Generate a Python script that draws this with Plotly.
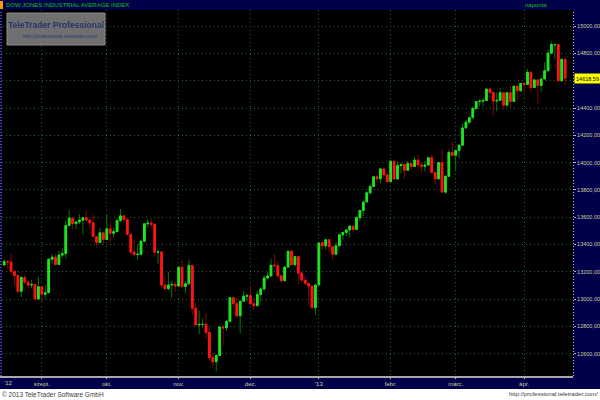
import plotly.graph_objects as go

# ---------------- data (DJIA daily candles) ----------------
month_days = [
    ("2012-08", [17, 20, 21, 22, 23, 24, 27, 28, 29, 30, 31]),
    ("2012-09", [4, 5, 6, 7, 10, 11, 12, 13, 14, 17, 18, 19, 20, 21, 24, 25, 26, 27, 28]),
    ("2012-10", [1, 2, 3, 4, 5, 8, 9, 10, 11, 12, 15, 16, 17, 18, 19, 22, 23, 24, 25, 26, 31]),
    ("2012-11", [1, 2, 5, 6, 7, 8, 9, 12, 13, 14, 15, 16, 19, 20, 21, 23, 26, 27, 28, 29, 30]),
    ("2012-12", [3, 4, 5, 6, 7, 10, 11, 12, 13, 14, 17, 18, 19, 20, 21, 24, 26, 27, 28, 31]),
    ("2013-01", [2, 3, 4, 7, 8, 9, 10, 11, 14, 15, 16, 17, 18, 22, 23, 24, 25, 28, 29, 30, 31]),
    ("2013-02", [1, 4, 5, 6, 7, 8, 11, 12, 13, 14, 15, 19, 20, 21, 22, 25, 26, 27, 28]),
    ("2013-03", [1, 4, 5, 6, 7, 8, 11, 12, 13, 14, 15, 18, 19, 20, 21, 22, 25, 26, 27, 28]),
    ("2013-04", [1, 2, 3, 4, 5, 8, 9, 10, 11, 12, 15, 16, 17]),
]

open_ = [
    13250, 13275, 13272, 13204, 13173, 13057, 13158, 13125, 13103, 13107, 13001,
    13091, 13036, 13047, 13292, 13307, 13254, 13323, 13333, 13540, 13593, 13553, 13565, 13578, 13597, 13579, 13559, 13458, 13414, 13486,
    13437, 13515, 13482, 13495, 13575, 13610, 13584, 13474, 13345, 13326, 13329, 13424, 13552, 13557, 13549, 13344, 13346, 13103, 13077, 13104, 13107,
    13096, 13233, 13093, 13112, 13246, 12933, 12811, 12815, 12815, 12756, 12571, 12542, 12588, 12796, 12789, 12837, 13010, 12967, 12878, 12985, 13022,
    13026, 12966, 12952, 13034, 13074, 13155, 13170, 13248, 13245, 13171, 13135, 13235, 13351, 13252, 13312, 13191, 13139, 13115, 13096, 12938,
    13104, 13413, 13391, 13435, 13384, 13329, 13391, 13471, 13488, 13507, 13535, 13511, 13596, 13650, 13712, 13779, 13825, 13896, 13882, 13954, 13910,
    13861, 14010, 13880, 13979, 13987, 13944, 13993, 13971, 14019, 13983, 13973, 13982, 14036, 13928, 13881, 14001, 13784, 13900, 14075,
    14054, 14090, 14128, 14254, 14296, 14329, 14397, 14447, 14450, 14455, 14539, 14514, 14452, 14456, 14512, 14421, 14512, 14448, 14560, 14526,
    14579, 14573, 14662, 14550, 14606, 14565, 14613, 14673, 14802, 14862, 14865, 14599, 14757,
]
high = [
    13292, 13287, 13330, 13204, 13173, 13171, 13180, 13140, 13142, 13107, 13162,
    13091, 13099, 13299, 13329, 13333, 13354, 13373, 13573, 13653, 13593, 13573, 13620, 13597, 13647, 13593, 13620, 13458, 13522, 13486,
    13620, 13567, 13520, 13594, 13661, 13610, 13592, 13474, 13432, 13403, 13431, 13552, 13583, 13589, 13549, 13368, 13346, 13174, 13199, 13133, 13132,
    13244, 13290, 13134, 13290, 13246, 12972, 12918, 12859, 12895, 12791, 12609, 12596, 12796, 12814, 12846, 13010, 13010, 13010, 12990, 13061, 13040,
    13100, 13011, 13060, 13089, 13178, 13197, 13296, 13331, 13277, 13171, 13239, 13352, 13359, 13312, 13312, 13191, 13169, 13115, 13096, 13112,
    13413, 13430, 13436, 13435, 13384, 13418, 13478, 13489, 13514, 13544, 13535, 13610, 13650, 13712, 13792, 13842, 13904, 13915, 13958, 13969, 13927,
    14019, 14010, 14009, 13993, 13990, 14012, 14001, 14041, 14058, 14001, 14012, 14039, 14058, 13928, 14001, 14096, 13909, 14095, 14150,
    14090, 14128, 14286, 14314, 14336, 14414, 14448, 14463, 14473, 14539, 14539, 14514, 14514, 14546, 14512, 14512, 14563, 14560, 14560, 14585,
    14583, 14685, 14671, 14612, 14606, 14613, 14734, 14826, 14887, 14868, 14865, 14757, 14757,
]
low = [
    13250, 13224, 13180, 13100, 13045, 13016, 13114, 13076, 13080, 12990, 13001,
    12977, 13003, 13047, 13261, 13250, 13254, 13301, 13299, 13536, 13511, 13510, 13550, 13477, 13579, 13522, 13455, 13379, 13414, 13397,
    13437, 13420, 13450, 13495, 13568, 13560, 13473, 13330, 13318, 13289, 13322, 13424, 13528, 13525, 13310, 13261, 13083, 13063, 13066, 13008, 13056,
    13096, 13082, 13043, 13112, 12885, 12807, 12744, 12789, 12715, 12548, 12500, 12471, 12588, 12661, 12766, 12837, 12925, 12862, 12750, 12985, 12986,
    12960, 12922, 12952, 12982, 13071, 13148, 13170, 13231, 13158, 13120, 13135, 13235, 13246, 13240, 13107, 13130, 13103, 12964, 12926, 12883,
    13104, 13358, 13363, 13344, 13291, 13329, 13391, 13434, 13461, 13450, 13485, 13511, 13569, 13609, 13712, 13765, 13825, 13852, 13850, 13880, 13851,
    13861, 13875, 13880, 13924, 13885, 13944, 13947, 13971, 13955, 13926, 13937, 13982, 13927, 13841, 13881, 13784, 13770, 13900, 14051,
    13937, 14031, 14128, 14254, 14282, 14329, 14383, 14413, 14413, 14455, 14470, 14343, 14376, 14456, 14395, 14421, 14406, 14448, 14458, 14526,
    14514, 14573, 14515, 14550, 14434, 14520, 14613, 14673, 14802, 14757, 14599, 14599, 14566,
]
close = [
    13275, 13272, 13204, 13173, 13057, 13158, 13125, 13103, 13107, 13001, 13091,
    13036, 13047, 13292, 13307, 13254, 13323, 13333, 13540, 13593, 13553, 13565, 13578, 13597, 13579, 13559, 13458, 13414, 13486, 13437,
    13515, 13482, 13495, 13575, 13610, 13584, 13474, 13345, 13326, 13329, 13424, 13552, 13557, 13549, 13344, 13346, 13103, 13077, 13104, 13107, 13096,
    13233, 13093, 13112, 13246, 12933, 12811, 12815, 12815, 12756, 12571, 12542, 12588, 12796, 12789, 12837, 13010, 12967, 12878, 12985, 13022, 13026,
    12966, 12952, 13034, 13074, 13155, 13170, 13248, 13245, 13171, 13135, 13235, 13351, 13252, 13312, 13191, 13139, 13115, 13096, 12938, 13104,
    13412, 13391, 13435, 13384, 13329, 13391, 13471, 13488, 13507, 13535, 13511, 13596, 13650, 13712, 13779, 13825, 13896, 13882, 13954, 13910, 13861,
    14010, 13880, 13979, 13987, 13944, 13993, 13971, 14019, 13983, 13973, 13982, 14036, 13928, 13881, 14001, 13784, 13900, 14075, 14054,
    14090, 14128, 14254, 14296, 14329, 14397, 14447, 14450, 14455, 14539, 14514, 14452, 14456, 14512, 14421, 14512, 14448, 14560, 14526, 14579,
    14573, 14662, 14550, 14606, 14565, 14613, 14673, 14802, 14865, 14865, 14599, 14757, 14618.59,
]

month_labels = {
    "2012-09": "szept.", "2012-10": "okt.", "2012-11": "nov.", "2012-12": "dec.",
    "2013-01": "'13", "2013-02": "febr.", "2013-03": "márc.", "2013-04": "ápr.",
}
price_ticks = [12600, 12800, 13000, 13200, 13400, 13600, 13800, 14000, 14200, 14400, 14600, 14800, 15000]

title_text = "DOW JONES INDUSTRIAL AVERAGE INDEX"
period_text = "naponta"
first_year_label = "'12"
copyright_text = "© 2013 TeleTrader Software GmbH"
url_text = "http://professional.teletrader.com/"

# ---------------- derived ----------------
def fmt(v):
    return f"{v:.2f}".replace(".", ",")

dates = [f"{ym}-{d:02d}" for ym, days in month_days for d in days]
tickvals = [f"{ym}-{days[0]:02d}" for ym, days in month_days if ym in month_labels]
ticktext = [month_labels[ym] for ym, days in month_days if ym in month_labels]
body_hi = [max(o, c) for o, c in zip(open_, close)]
body_lo = [min(o, c) for o, c in zip(open_, close)]
# the last-price box hides the tick label it sits on
price_text = ["" if abs(t - close[-1]) < 60 else fmt(t) for t in price_ticks]

# ---------------- layout geometry (pixels) ----------------
W, H = 600, 400
PL, PR, PT, PB = 2, 573, 10, 376
def px(x):
    return (x - PL) / (PR - PL)
def py(y):
    return (PB - y) / (PB - PT)

NAVY = "#00004b"
AXTXT = "#cfcf9c"
GRID = "#276227"
FONT = "Liberation Sans, Arial"

fig = go.Figure()
fig.add_trace(go.Candlestick(
    x=dates, open=open_, high=high, low=low, close=close,
    increasing=dict(line=dict(color="#007c00", width=1), fillcolor="#007c00"),
    decreasing=dict(line=dict(color="#8c0000", width=1), fillcolor="#8c0000"),
    whiskerwidth=0, showlegend=False, hoverinfo="skip",
))
fig.add_trace(go.Candlestick(
    x=dates, open=open_, high=body_hi, low=body_lo, close=close,
    increasing=dict(line=dict(color="#1ee61e", width=1), fillcolor="#1ee61e"),
    decreasing=dict(line=dict(color="#ff1414", width=1), fillcolor="#ff1414"),
    whiskerwidth=0, showlegend=False, hoverinfo="skip",
))

shapes = [
    dict(type="rect", xref="paper", yref="paper", x0=px(-5), x1=px(605), y0=py(405), y1=py(389),
         fillcolor="white", line=dict(width=0)),
    dict(type="line", xref="paper", yref="paper", x0=px(0), x1=1, y0=py(377), y1=py(377),
         line=dict(color="#a8a8a8", width=2)),
    dict(type="line", xref="paper", yref="paper", x0=px(573.5), x1=px(573.5), y0=py(376), y1=py(10),
         line=dict(color="#b8b890", width=1, dash="1px,2px")),
    dict(type="line", xref="paper", yref="paper", x0=px(1), x1=px(1), y0=py(376), y1=py(10),
         line=dict(color="#9a9a9a", width=1, dash="1px,2px")),
    dict(type="rect", xref="paper", yref="paper", x0=px(0), x1=px(3), y0=py(9), y1=py(1),
         fillcolor="#ff9a00", line=dict(width=0)),
    dict(type="rect", xref="paper", yref="paper", x0=px(7), x1=px(105), y0=py(45), y1=py(13),
         fillcolor="#707070", line=dict(color="#8c8c8c", width=1)),
]

annotations = [
    dict(xref="paper", yref="paper", x=px(4), y=py(5), xanchor="left", yanchor="middle",
         text=title_text, showarrow=False, font=dict(family=FONT, size=6, color="#12c012")),
    dict(xref="paper", yref="paper", x=px(549), y=py(5), xanchor="right", yanchor="middle",
         text=period_text, showarrow=False, font=dict(family=FONT, size=6, color="#12c012")),
    dict(xref="paper", yref="paper", x=px(56), y=py(25), xanchor="center", yanchor="middle",
         text="<b>TeleTrader Professional</b>", showarrow=False,
         font=dict(family=FONT, size=8.5, color="#27386c")),
    dict(xref="paper", yref="paper", x=px(60), y=py(36), xanchor="center", yanchor="middle",
         text=url_text, showarrow=False, font=dict(family=FONT, size=5, color="#27386c")),
    dict(xref="paper", yref="y", x=px(574), y=close[-1], xanchor="left", yanchor="middle",
         text=fmt(close[-1]), showarrow=False, bgcolor="#ffff00",
         width=25, height=9, align="center", borderpad=0,
         font=dict(family=FONT, size=5.5, color="#000000")),
    dict(xref="paper", yref="paper", x=px(2), y=py(383), xanchor="left", yanchor="middle",
         text=first_year_label, showarrow=False, font=dict(family=FONT, size=6, color=AXTXT)),
    dict(xref="paper", yref="paper", x=px(0), y=py(394), xanchor="left", yanchor="middle",
         text=copyright_text, showarrow=False, font=dict(family=FONT, size=6.5, color="#3c3c3c")),
    dict(xref="paper", yref="paper", x=px(600), y=py(394), xanchor="right", yanchor="middle",
         text=url_text, showarrow=False, font=dict(family=FONT, size=6, color="#3c3c3c")),
]

fig.update_layout(
    width=W, height=H,
    margin=dict(l=PL, r=W - PR, t=PT, b=H - PB, autoexpand=False),
    paper_bgcolor=NAVY, plot_bgcolor="#000000",
    separators=",.",
    showlegend=False, hovermode=False,
    shapes=shapes, annotations=annotations,
    xaxis=dict(
        type="category", range=[-0.64, 166.3], rangeslider=dict(visible=False),
        tickvals=tickvals, ticktext=ticktext, tickangle=0,
        showgrid=True, gridcolor=GRID, griddash="1px,3px", gridwidth=1,
        ticks="outside", ticklen=2, tickcolor="#c0c0c0",
        tickfont=dict(family=FONT, size=6, color=AXTXT),
        showline=False, zeroline=False, fixedrange=True,
    ),
    yaxis=dict(
        side="right", range=[12437, 15118], tickvals=price_ticks, ticktext=price_text,
        showgrid=True, gridcolor=GRID, griddash="1px,3px", gridwidth=1,
        ticks="outside", ticklen=2, tickcolor="#b8b890",
        tickfont=dict(family=FONT, size=5.5, color=AXTXT),
        showline=False, zeroline=False, fixedrange=True,
    ),
)

fig.write_html("out.html", config={"displayModeBar": False},
               post_script="document.body.style.margin='0';")
